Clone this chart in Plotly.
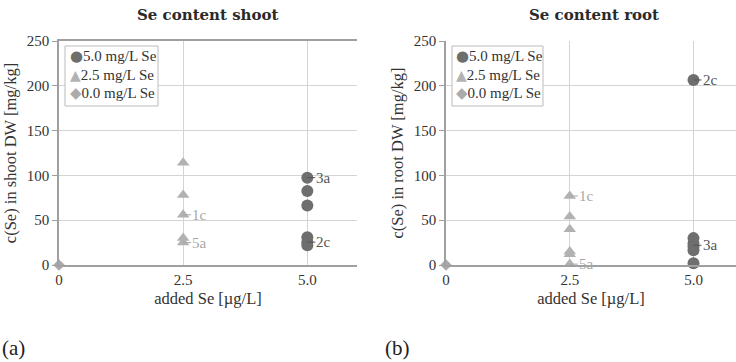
import plotly.graph_objects as go

# ---- data ----
x_ticks = [0, 2.5, 5.0]
x_ticktext = ["0", "2.5", "5.0"]
y_ticks = [0, 50, 100, 150, 200, 250]

shoot_50_x = [5.0, 5.0, 5.0, 5.0, 5.0, 5.0]
shoot_50_y = [97.5, 82.5, 66.5, 31, 25.5, 22]
shoot_25_x = [2.5, 2.5, 2.5, 2.5, 2.5]
shoot_25_y = [114, 78, 56, 30, 25]
shoot_00_x = [0]
shoot_00_y = [0]
shoot_labels = [("3a", 5.0, 97.5, "#555555"), ("2c", 5.0, 25.5, "#555555"),
                ("1c", 2.5, 56, "#a8a8a8"), ("5a", 2.5, 25, "#a8a8a8")]

root_50_x = [5.0, 5.0, 5.0, 5.0, 5.0, 5.0]
root_50_y = [206.5, 30, 24, 20.5, 16.5, 2]
root_25_x = [2.5, 2.5, 2.5, 2.5, 2.5, 2.5]
root_25_y = [77, 54, 40, 15, 12, 1]
root_00_x = [0]
root_00_y = [0]
root_labels = [("2c", 5.0, 206.5, "#555555"), ("3a", 5.0, 22, "#555555"),
               ("1c", 2.5, 77, "#a8a8a8"), ("5a", 2.5, 1, "#a8a8a8")]

series_names = ["5.0 mg/L Se", "2.5 mg/L Se", "0.0 mg/L Se"]
colors = ["#6e6e6e", "#b2b2b2", "#ababab"]
symbols = ["circle", "triangle-up", "diamond"]
glyphs = ["●", "▲", "◆"]
glyph_sizes = [15, 14, 15]
sizes = [12, 11, 9]

FONT = "Liberation Serif"
TFONT = "DejaVu Serif"
W, H = 736, 362

fig = go.Figure()

panels = [
    dict(xa="x", ya="y", data=[(shoot_50_x, shoot_50_y), (shoot_25_x, shoot_25_y), (shoot_00_x, shoot_00_y)],
         labels=shoot_labels, legbox=(65, 46, 158, 106), legx=68),
    dict(xa="x2", ya="y2", data=[(root_50_x, root_50_y), (root_25_x, root_25_y), (root_00_x, root_00_y)],
         labels=root_labels, legbox=(452, 46, 543, 106), legx=454),
]

for p in panels:
    for i, (xs, ys) in enumerate(p["data"]):
        fig.add_trace(go.Scatter(
            x=xs, y=ys, mode="markers", name=series_names[i], showlegend=False,
            marker=dict(symbol=symbols[i], size=sizes[i], color=colors[i], line=dict(width=0)),
            xaxis=p["xa"], yaxis=p["ya"], cliponaxis=False,
        ))
    for (t, x, y, c) in p["labels"]:
        fig.add_annotation(
            x=x, y=y, xref=p["xa"], yref=p["ya"], text=t, showarrow=True,
            arrowhead=0, arrowwidth=1, arrowcolor=c, ax=8, ay=0, xanchor="left",
            font=dict(family=FONT, size=15, color=c), borderpad=0, standoff=0,
        )
    # legend box
    x0, y0, x1, y1 = p["legbox"]
    fig.add_shape(type="rect", xref="paper", yref="paper", x0=x0 / W, x1=x1 / W,
                  y0=1 - y1 / H, y1=1 - y0 / H, line=dict(color="#bbbbbb", width=1),
                  fillcolor="white", layer="above")
    for i, name in enumerate(series_names):
        yc = 56 + 18.5 * i
        fig.add_annotation(
            x=p["legx"] / W, y=1 - yc / H, xref="paper", yref="paper", xanchor="left", yanchor="middle",
            showarrow=False,
            text=(f"<span style='color:{colors[i]};font-family:DejaVu Sans;font-size:{glyph_sizes[i]}px'>"
                  f"{glyphs[i]}</span>{name}"),
            font=dict(family=FONT, size=15, color="#333333"),
        )

axis_common = dict(
    showgrid=True, gridcolor="#d4d4d4", gridwidth=1, zeroline=False,
    showline=True, linecolor="#a0a0a0", linewidth=1.5, automargin=False,
    tickfont=dict(family=FONT, size=15, color="#333333"),
)
title_font = dict(family=FONT, size=16.5, color="#333333")

ydom = [1 - 265 / H, 1 - 41 / H]
fig.update_layout(
    width=W, height=H, margin=dict(l=0, r=0, t=0, b=0, autoexpand=False),
    paper_bgcolor="white", plot_bgcolor="white", showlegend=False,
    xaxis=dict(domain=[59 / W, 357 / W], range=[0, 6], tickvals=x_ticks, ticktext=x_ticktext,
               ticks="", mirror=True, anchor="y",
               title=dict(text="added Se [µg/L]", font=title_font, standoff=6),
               **axis_common),
    yaxis=dict(domain=ydom, range=[0, 250], tickvals=y_ticks, ticks="outside", ticklen=5,
               tickcolor="#a0a0a0", mirror=False, anchor="x",
               title=dict(text="c(Se) in shoot DW [mg/kg]", font=title_font, standoff=6),
               **axis_common),
    xaxis2=dict(domain=[446 / W, 1.0], range=[0, (W - 446) / 49.5], tickvals=x_ticks, ticktext=x_ticktext,
                ticks="", mirror=False, anchor="y2",
                title=dict(text="added Se [µg/L]", font=title_font, standoff=6),
                **axis_common),
    yaxis2=dict(domain=ydom, range=[0, 250], tickvals=y_ticks, ticks="outside", ticklen=5,
                tickcolor="#a0a0a0", mirror=False, anchor="x2",
                title=dict(text="c(Se) in root DW [mg/kg]", font=title_font, standoff=6),
                **axis_common),
)

fig.add_annotation(x=208 / W, y=1 - 15 / H, xref="paper", yref="paper", text="<b>Se content shoot</b>",
                   showarrow=False, xanchor="center", yanchor="middle",
                   font=dict(family=TFONT, size=15, color="#2a2a2a"))
fig.add_annotation(x=594 / W, y=1 - 15 / H, xref="paper", yref="paper", text="<b>Se content root</b>",
                   showarrow=False, xanchor="center", yanchor="middle",
                   font=dict(family=TFONT, size=15, color="#2a2a2a"))
fig.add_annotation(x=0.0, y=1 - 348 / H, xref="paper", yref="paper", text="(a)", showarrow=False,
                   xanchor="left", yanchor="middle", font=dict(family=FONT, size=21, color="#222222"))
fig.add_annotation(x=383 / W, y=1 - 348 / H, xref="paper", yref="paper", text="(b)", showarrow=False,
                   xanchor="left", yanchor="middle", font=dict(family=FONT, size=21, color="#222222"))

fig.write_html("out.html")
